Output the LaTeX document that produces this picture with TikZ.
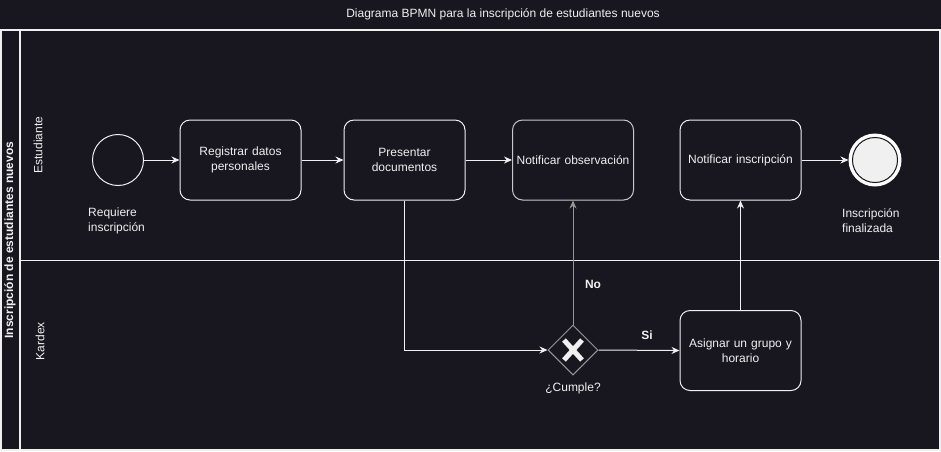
\documentclass[tikz,border=0pt]{standalone}
\usepackage{fontspec}
\setmainfont{Liberation Sans}
\usepackage{tikz}
\usetikzlibrary{arrows.meta,shapes.geometric}
\definecolor{canvasbg}{RGB}{24,22,31}
\definecolor{linewhite}{RGB}{240,240,240}
\definecolor{linegray}{RGB}{150,150,150}
\definecolor{obsgray}{RGB}{200,200,200}

\begin{document}
\begin{tikzpicture}[x=1pt,y=-1pt,
    task/.style={draw=linewhite,line width=1pt,rounded corners=10pt,minimum width=121pt,minimum height=80pt,
        text width=115pt,align=center,inner sep=0pt,text=linewhite,font=\fontsize{12}{14.5}\selectfont},
    flow/.style={draw=linewhite,line width=1pt,-{Stealth[length=8pt,width=7pt]}},
    lbl/.style={text=linewhite,inner sep=0pt,font=\fontsize{12}{15}\selectfont}]
    % Canvas
    \fill[canvasbg] (0,0) rectangle (941,451);
    \useasboundingbox (0,0) rectangle (941,451);

    % Title
    \node[lbl,font=\fontsize{12}{14}\selectfont] (title) at (503,14) {Diagrama BPMN para la inscripción de estudiantes nuevos};

    % Pool and lanes
    \draw[linewhite,line width=1.2pt] (1,30) rectangle (940,450);
    \draw[linewhite,line width=1.2pt] (20,30) -- (20,450);
    \draw[linewhite,line width=1pt] (20,260) -- (940,260);
    \node[lbl,rotate=90,font=\bfseries\fontsize{12}{14}\selectfont] (poolname) at (10,240) {Inscripción de estudiantes nuevos};
    \node[lbl,rotate=90] (laneest) at (38,145) {Estudiante};
    \node[lbl,rotate=90] (lanekdx) at (40,341) {Kardex};

    % Events
    \node[circle,draw=linewhite,line width=1pt,minimum size=51pt,inner sep=0pt] (start) at (118,160) {};
    \node[circle,draw=white,fill=linewhite,line width=3pt,minimum size=50pt,inner sep=0pt] (end) at (875,160) {};
    \draw[canvasbg,line width=1pt] (end.center) circle (22.5);
    \node[lbl,anchor=west,align=left] (startlbl) at (88,220.5) {Requiere\\inscripción};
    \node[lbl,anchor=west,align=left] (endlbl) at (842,220.5) {Inscripción\\finalizada};

    % Tasks
    \node[task] (regdatos) at (240.5,160) {Registrar datos\\personales};
    \node[task] (presdoc) at (404.5,160) {Presentar\\documentos};
    \node[task,draw=obsgray] (notobs) at (573,160) {Notificar observación};
    \node[task] (notins) at (740.5,160) {Notificar inscripción};
    \node[task] (asignar) at (740.5,350.5) {Asignar un grupo y\\horario};

    % Gateway
    \node[diamond,draw=linegray,line width=1pt,minimum width=50pt,minimum height=50pt,inner sep=0pt] (cumple) at (573,350) {};
    \draw[linewhite,line width=5pt] ([shift={(-9,-10)}]cumple.center) -- ([shift={(9,10)}]cumple.center);
    \draw[linewhite,line width=5pt] ([shift={(-9,10)}]cumple.center) -- ([shift={(9,-10)}]cumple.center);
    \node[lbl] (cumplelbl) at (573,388) {¿Cumple?};

    % Sequence flows
    \draw[flow] (start) -- (regdatos);
    \draw[flow] (regdatos) -- (presdoc);
    \draw[flow] (presdoc) -- (notobs);
    \draw[flow] (notins) -- (end);
    \draw[flow] (presdoc.south) |- (cumple.west);
    \draw[flow,draw=linegray] (cumple.north) -- (notobs.south);
    \draw[flow] (cumple.east) -- (asignar.west);
    \draw[flow] (asignar.north) -- (notins.south);
    \node[lbl,font=\bfseries\fontsize{12}{14}\selectfont] (nolbl) at (593,284) {No};
    \node[lbl,font=\bfseries\fontsize{12}{14}\selectfont] (silbl) at (647,335) {Si};
\end{tikzpicture}
\end{document}
